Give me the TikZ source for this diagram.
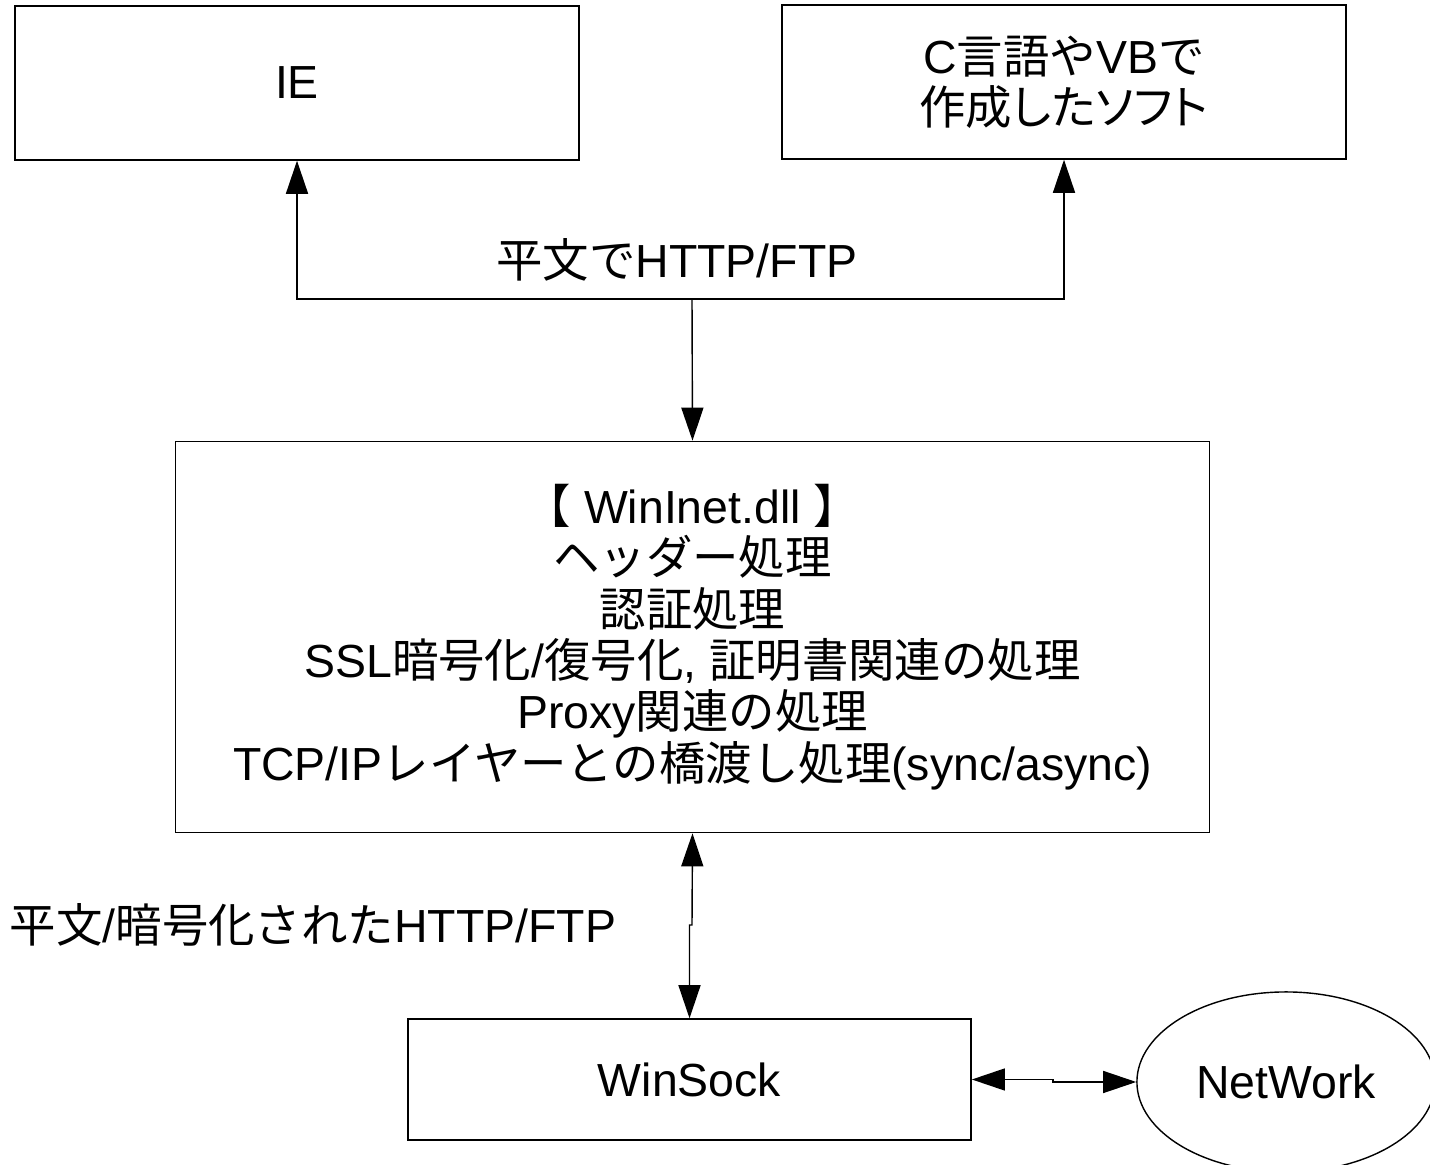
\documentclass[tikz,border=0pt]{standalone}
\usepackage{fontspec}
\setmainfont{Liberation Sans}
\newfontfamily\jpfont{Noto Sans CJK JP}
\newfontfamily\jpnarrow[RawFeature=+palt]{Noto Sans CJK JP}
\newcommand{\jtext}[1]{{\jpfont #1}}
\usetikzlibrary{arrows.meta}
\usetikzlibrary{shapes.geometric}

\begin{document}
\begin{tikzpicture}[
  x = 0.01cm, y = -0.01cm,
  box/.style = {draw, thin, inner sep=0pt, align=center},
  label/.style = {inner sep=0pt, align=center},
  line/.style = {thin},
  >={Triangle[width=0.22cm, length=0.33cm]},
  every node/.style = {font=\fontsize{13.2pt}{14.6pt}\selectfont},
]

  \useasboundingbox (0,0) rectangle (1430,1165);

  % boxes
  \node[box, minimum width=5.64cm, minimum height=1.54cm] (ie) at (297,83) {IE};
  \node[box, minimum width=5.64cm, minimum height=1.54cm] (csoft) at (1064,82)
    {C\jtext{言語や}VB\jtext{で}\\{\jpnarrow 作成したソフト}};
  \node[box, minimum width=10.33cm, minimum height=3.91cm] (wininet) at (692.5,637)
    {\jtext{【} WinInet.dll \jtext{】}\\
     \jtext{ヘッダー処理}\\
     \jtext{認証処理}\\
     SSL\jtext{暗号化}/\jtext{復号化}, \jtext{証明書関連の処理}\\
     Proxy\jtext{関連の処理}\\
     TCP/IP\jtext{レイヤーとの橋渡し処理}(sync/async)};
  \node[box, minimum width=5.63cm, minimum height=1.21cm] (winsock) at (689.5,1079.5) {WinSock};
  \node[box, ellipse, minimum width=2.98cm, minimum height=1.8cm] (network) at (1286,1082) {NetWork};

  % labels
  \node[label] (plain) at (677,260) {\jtext{平文で}HTTP/FTP};
  \node[label] (crypt) at (313,925) {\jtext{平文}/\jtext{暗号化された}HTTP/FTP};

  % connectors
  \coordinate (split) at (692,299);
  \coordinate (vjog) at (692,925);
  \coordinate (hjog) at (1053,1079.5);

  \draw[line,->] (split) -| (ie.south);
  \draw[line,->] (split) -| (csoft.south);
  \draw[line,->] (split) -- (wininet.north);
  \draw[line,<->] (wininet.south) -- (vjog) -| (winsock.north);
  \draw[line,<->] (winsock.east) -- (hjog) |- (network.west);

\end{tikzpicture}
\end{document}
